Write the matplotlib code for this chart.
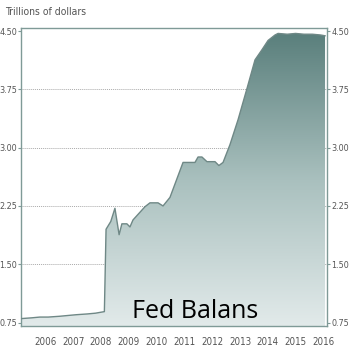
import matplotlib
matplotlib.use("Agg")
import matplotlib.pyplot as plt
import numpy as np
from matplotlib.colors import LinearSegmentedColormap

# Fed balance sheet, trillions of dollars
years = [2005.62, 2006.0, 2006.3, 2006.6, 2007.0, 2007.3, 2007.6, 2008.0, 2008.3,
         2008.62, 2008.68, 2008.85, 2009.0, 2009.15, 2009.25, 2009.43, 2009.54,
         2009.65, 2010.08, 2010.26, 2010.55, 2010.73, 2010.98, 2011.45, 2011.88,
         2011.99, 2012.13, 2012.31, 2012.6, 2012.74, 2012.89, 2013.14, 2013.43,
         2013.75, 2014.04, 2014.29, 2014.51, 2014.76, 2014.87, 2015.2, 2015.5,
         2015.8, 2016.1, 2016.4, 2016.56]
values = [0.80, 0.81, 0.82, 0.82, 0.83, 0.84, 0.85, 0.86, 0.87,
          0.89, 1.95, 2.05, 2.22, 1.88, 2.02, 2.02, 1.98,
          2.07, 2.24, 2.29, 2.29, 2.25, 2.36, 2.81, 2.81,
          2.88, 2.88, 2.82, 2.82, 2.77, 2.81, 3.04, 3.36,
          3.76, 4.13, 4.26, 4.38, 4.45, 4.47, 4.46, 4.47,
          4.46, 4.46, 4.45, 4.44]

ytick_vals = [0.75, 1.50, 2.25, 3.00, 3.75, 4.50]
xtick_years = list(range(2006, 2017))

edge = "#7f9a97"
txt = "#555555"
small = dict(family="DejaVu Sans", stretch="condensed", size=6.5)

fig = plt.figure(figsize=(3.5, 3.5), dpi=100)
ax = fig.add_axes([21 / 350, 24 / 350, 306 / 350, 298 / 350])

ymin, ymax = 0.705, 4.54
xmin, xmax = 2005.62, 2016.63

cmap = LinearSegmentedColormap.from_list("g", ["#e2eaea", "#a9c0be", "#5a7f7c"])
grad = np.linspace(0, 1, 256).reshape(-1, 1)
img = ax.imshow(grad, cmap=cmap, origin="lower", aspect="auto",
                extent=[xmin, xmax, ymin, 4.47], zorder=1)
poly = ax.fill_between(years, values, ymin, color="none", lw=0)
img.set_clip_path(poly.get_paths()[0], transform=ax.transData)
ax.plot(years, values, color="#6f8886", lw=1.0, zorder=3)

for v in ytick_vals[1:-1]:
    ax.axhline(v, color="#aaaaaa", lw=0.7, ls=(0, (1, 1)), zorder=0.5)

ax.set_xlim(xmin, xmax)
ax.set_ylim(ymin, ymax)
for s in ax.spines.values():
    s.set_color(edge)
    s.set_linewidth(1.0)

ax.set_yticks(ytick_vals)
ax.set_yticklabels([f"{v:.2f}" for v in ytick_vals])
ax.tick_params(axis="y", which="both", left=True, right=True, labelleft=True,
               labelright=True, length=2, width=0.8, color=edge, pad=1,
               labelcolor=txt)
ax.set_xticks([y + 0.5 for y in xtick_years])
ax.set_xticklabels([str(y) for y in xtick_years])
ax.tick_params(axis="x", length=0, pad=8, labelcolor=txt)
for lab in ax.get_yticklabels():
    lab.set(**small)
for lab in ax.get_xticklabels():
    lab.set(**dict(small, size=7))

fig.text(5 / 350, 1 - 12 / 350, "Trillions of dollars", color=txt,
         va="center", ha="left", **dict(small, size=7.5))
fig.text(195 / 350, 1 - 312 / 350, "Fed Balans", fontsize=18, color="black",
         family="Open Sans", va="center", ha="center")

fig.savefig("out.png", dpi=100)
